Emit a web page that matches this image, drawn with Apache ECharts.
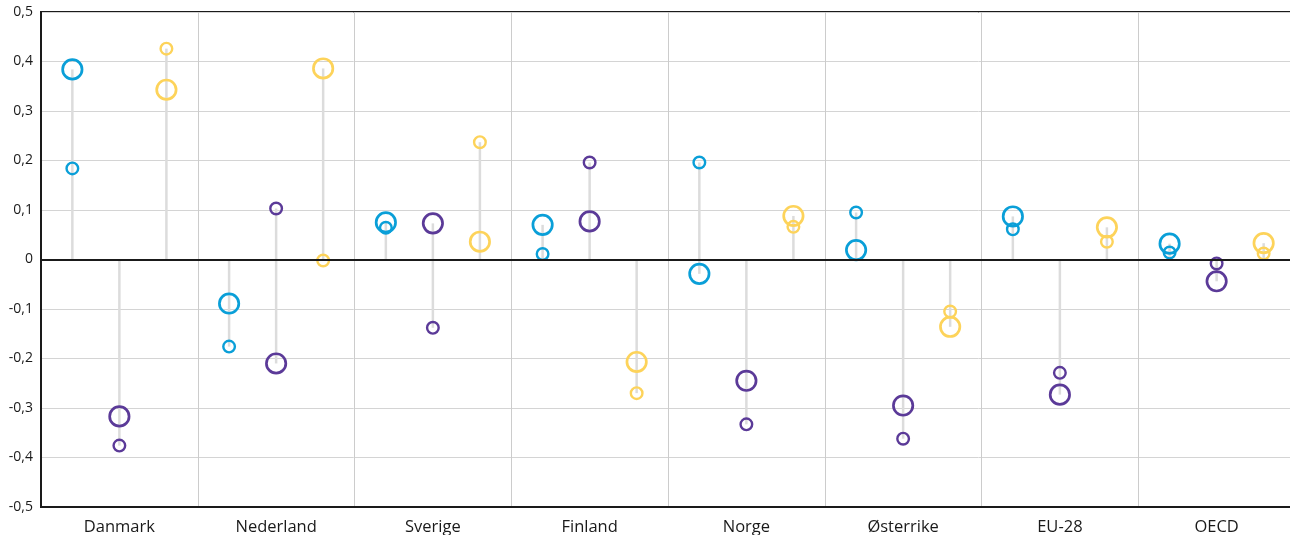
<!DOCTYPE html>
<html>
<head>
<meta charset="utf-8">
<script src="https://cdn.jsdelivr.net/npm/echarts@6/dist/echarts.min.js"></script>
<style>
html,body{margin:0;padding:0;background:#fff;}
#chart{width:1290px;height:535px;}
</style>
</head>
<body>
<div id="chart"></div>
<script>
const countries = ['Danmark','Nederland','Sverige','Finland','Norge','Østerrike','EU-28','OECD'];
const yTicks = [-0.5,-0.4,-0.3,-0.2,-0.1,0,0.1,0.2,0.3,0.4,0.5];

const blueBig     = [0.384, -0.089, 0.075, 0.070, -0.029, 0.019, 0.087, 0.032];
const blueSmall   = [0.184, -0.176, 0.064, 0.011, 0.196, 0.095, 0.061, 0.014];
const purpleBig   = [-0.317, -0.210, 0.073, 0.077, -0.245, -0.295, -0.273, -0.044];
const purpleSmall = [-0.376, 0.103, -0.138, 0.196, -0.333, -0.362, -0.229, -0.008];
const yellowBig   = [0.343, 0.386, 0.036, -0.207, 0.088, -0.136, 0.065, 0.033];
const yellowSmall = [0.426, -0.002, 0.237, -0.270, 0.066, -0.105, 0.036, 0.012];

const groups = [
  {name:'Blå', color:'#0a9fd8', big:blueBig, small:blueSmall, offset:-0.3},
  {name:'Lilla', color:'#5b3a98', big:purpleBig, small:purpleSmall, offset:0},
  {name:'Gul', color:'#fdd35a', big:yellowBig, small:yellowSmall, offset:0.3}
];

function makeSeries(g, part){
  return {
    type:'custom',
    name:g.name,
    silent:true,
    z: part === 'stem' ? 2 : 3,
    encode:{x:0, y:[1,2]},
    data: countries.map((c,i)=>[i, g.big[i], g.small[i]]),
    renderItem:function(params, api){
      const idx = api.value(0);
      const a = api.value(1), b = api.value(2);
      const bw = api.size([1,0])[0];
      const x = api.coord([idx, 0])[0] + g.offset*bw;
      if (part === 'stem') {
        const lo = Math.min(0,a,b), hi = Math.max(0,a,b);
        const y1 = api.coord([idx, hi])[1], y2 = api.coord([idx, lo])[1];
        return {type:'line', shape:{x1:x,y1:y1,x2:x,y2:y2},
          style:{stroke:'#dcdcdc', lineWidth:2.5}};
      }
      const yb = api.coord([idx, a])[1], ys = api.coord([idx, b])[1];
      return {type:'group', children:[
        {type:'circle', shape:{cx:x, cy:yb, r:9.7}, style:{fill:null, stroke:g.color, lineWidth:2.7}},
        {type:'circle', shape:{cx:x, cy:ys, r:5.8}, style:{fill:null, stroke:g.color, lineWidth:2.4}}
      ]};
    }
  };
}

const series = [];
groups.forEach(g=>series.push(makeSeries(g,'stem')));
groups.forEach(g=>series.push(makeSeries(g,'dot')));
series[0].markLine = {
  silent:true, symbol:'none', label:{show:false},
  lineStyle:{color:'#1a1a1a', width:2, type:'solid'},
  data:[{yAxis:0}], z:5
};

const chart = echarts.init(document.getElementById('chart'));
chart.setOption({
  animation:false,
  grid:{left:41, right:-5, top:12, bottom:28, outerBoundsMode:'none', containLabel:false,
    show:true, borderColor:'#1a1a1a', borderWidth:2, backgroundColor:'transparent'},
  xAxis:{
    type:'category', data:countries, boundaryGap:true,
    axisLine:{show:true, onZero:false, lineStyle:{color:'#1a1a1a', width:2}},
    axisTick:{show:false},
    axisLabel:{color:'#1a1a1a', fontSize:16.5, fontFamily:'Open Sans', margin:12},
    splitLine:{show:true, lineStyle:{color:'#cccccc', width:1}}
  },
  yAxis:{
    type:'value', min:-0.5, max:0.5, interval:0.1,
    axisLine:{show:true, lineStyle:{color:'#1a1a1a', width:2}},
    axisTick:{show:false},
    axisLabel:{color:'#1a1a1a', fontSize:14, fontFamily:'Open Sans', margin:8,
      formatter:function(v){
        const t = yTicks.reduce((p,c)=>Math.abs(c-v)<Math.abs(p-v)?c:p);
        return t===0 ? '0' : t.toFixed(1).replace('.',',');
      }},
    splitLine:{show:true, lineStyle:{color:'#d4d4d4', width:1}}
  },
  series:series
});
</script>
</body>
</html>
